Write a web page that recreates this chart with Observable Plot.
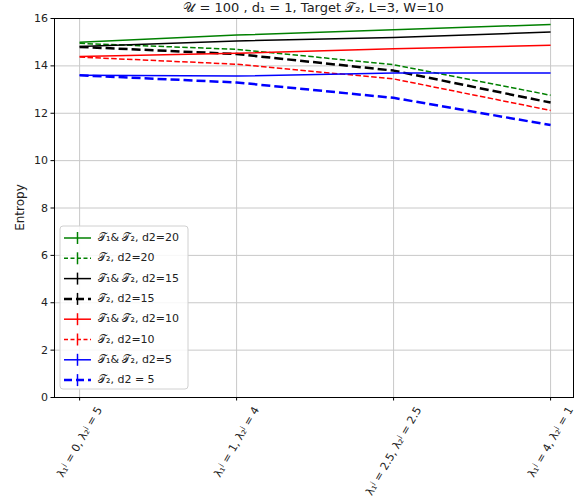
<!DOCTYPE html>
<html>
<head>
<meta charset="utf-8">
<script src="https://cdn.jsdelivr.net/npm/d3@7"></script>
<script src="https://cdn.jsdelivr.net/npm/@observablehq/plot@0.6"></script>
<style>
  html, body { margin: 0; padding: 0; background: #fff; }
  #chart { position: relative; width: 581px; height: 501px; }
  svg { overflow: visible; }
</style>
</head>
<body>
<div id="chart"></div>
<script>
// ---- data ----
const titleText = "𝒰 = 100 , d₁ = 1, Target 𝒯₂, L=3, W=10";
const yLabel = "Entropy";
const xIndex = [0, 1, 2, 3];
const xTickLabels = ["λ₁ʲ = 0, λ₂ʲ = 5", "λ₁ʲ = 1, λ₂ʲ = 4", "λ₁ʲ = 2.5, λ₂ʲ = 2.5", "λ₁ʲ = 4, λ₂ʲ = 1"];
const yTicks = [0, 2, 4, 6, 8, 10, 12, 14, 16];

const seriesNames = [
  "𝒯₁& 𝒯₂, d2=20", "𝒯₂, d2=20",
  "𝒯₁& 𝒯₂, d2=15", "𝒯₂, d2=15",
  "𝒯₁& 𝒯₂, d2=10", "𝒯₂, d2=10",
  "𝒯₁& 𝒯₂, d2=5",  "𝒯₂, d2 = 5"
];
const greenSolid = [15.0, 15.3, 15.52, 15.75];
const greenDash  = [14.95, 14.7, 14.05, 12.76];
const blackSolid = [14.82, 15.05, 15.2, 15.43];
const blackDash  = [14.8, 14.5, 13.8, 12.45];
const redSolid   = [14.4, 14.53, 14.72, 14.87];
const redDash    = [14.37, 14.07, 13.45, 12.12];
const blueSolid  = [13.6, 13.57, 13.7, 13.7];
const blueDash   = [13.6, 13.3, 12.65, 11.5];
const seriesValues = [greenSolid, greenDash, blackSolid, blackDash, redSolid, redDash, blueSolid, blueDash];

// ---- styles ----
const styles = [
  {color: "#008000", width: 1.5, dash: null},
  {color: "#008000", width: 1.5, dash: "5.5,2.4"},
  {color: "#000000", width: 1.5, dash: null},
  {color: "#000000", width: 2.5, dash: "9,4"},
  {color: "#ff0000", width: 1.5, dash: null},
  {color: "#ff0000", width: 1.5, dash: "5.5,2.4"},
  {color: "#0000ff", width: 1.5, dash: null},
  {color: "#0000ff", width: 2.5, dash: "9,4"}
];

const FONT = "'DejaVu Sans', sans-serif";
const W = 581, H = 501;
const mL = 54, mR = 8, mT = 18, mB = 104;

// measure label widths for centred rotated tick labels (matplotlib style)
const ctx = document.createElement("canvas").getContext("2d");
ctx.font = "11px 'DejaVu Sans'";
const rot = 60 * Math.PI / 180;

const lineMarks = seriesValues.map((vals, i) => {
  const data = xIndex.map((x, j) => ({x, y: vals[j]}));
  const s = styles[i];
  return Plot.line(data, {x: "x", y: "y", stroke: s.color, strokeWidth: s.width,
    strokeDasharray: s.dash || undefined, strokeLinecap: "butt"});
});

const xLabelMarks = xTickLabels.map((lab, i) => {
  const L = ctx.measureText(lab).width;
  const h = 13;
  const halfH = (L * Math.sin(rot) + h * Math.cos(rot)) / 2;
  return Plot.text([xIndex[i]], {x: d => d, y: () => 0, text: () => lab,
    rotate: -60, textAnchor: "middle", lineAnchor: "middle",
    dy: 7 + halfH, fontSize: 11, fill: "#222"});
});

const chart = Plot.plot({
  width: W, height: H,
  marginLeft: mL, marginRight: mR, marginTop: mT, marginBottom: mB,
  style: {fontFamily: FONT, fontSize: "11px", color: "#222", background: "white"},
  x: {type: "linear", domain: [-0.16, 3.146]},
  y: {type: "linear", domain: [0, 16]},
  marks: [
    Plot.gridX(xIndex, {stroke: "#c8c8c8", strokeOpacity: 1, strokeWidth: 1}),
    Plot.gridY(yTicks, {stroke: "#c8c8c8", strokeOpacity: 1, strokeWidth: 1}),
    ...lineMarks,
    Plot.axisX(xIndex, {tickSize: 3.5, tickFormat: () => "", label: null, stroke: "#000"}),
    Plot.axisY(yTicks, {tickSize: 3.5, tickPadding: 3, fontSize: 11, label: null, stroke: "#000"}),
    ...xLabelMarks,
    Plot.frame({stroke: "#000", strokeWidth: 1})
  ]
});

document.getElementById("chart").appendChild(chart);

// title and y label + legend appended into the svg
const svg = d3.select(chart);
svg.append("text")
  .attr("x", (mL + (W - mR)) / 2).attr("y", 12)
  .attr("text-anchor", "middle")
  .style("font-family", FONT).style("font-size", "13px").attr("fill", "#222")
  .text(titleText);

svg.append("text")
  .attr("transform", `translate(20,${(mT + (H - mB)) / 2}) rotate(-90)`)
  .attr("text-anchor", "middle").attr("dominant-baseline", "middle")
  .style("font-family", FONT).style("font-size", "12px").attr("fill", "#222")
  .text(yLabel);

const lg = svg.append("g");
lg.append("rect").attr("x", 60).attr("y", 226).attr("width", 128).attr("height", 163)
  .attr("rx", 3).attr("fill", "white").attr("fill-opacity", 0.85)
  .attr("stroke", "#d0d0d0").attr("stroke-width", 1);
seriesNames.forEach((name, i) => {
  const s = styles[i];
  const y = 238 + i * 20.3;
  const g = lg.append("g");
  g.append("line").attr("x1", 64).attr("x2", 91).attr("y1", y).attr("y2", y)
    .attr("stroke", s.color).attr("stroke-width", s.width)
    .attr("stroke-dasharray", s.dash ? (s.width > 2 ? "8,4" : "4,2.5") : null);
  g.append("line").attr("x1", 77.5).attr("x2", 77.5).attr("y1", y - 6).attr("y2", y + 6)
    .attr("stroke", s.color).attr("stroke-width", 1.5);
  g.append("text").attr("x", 98).attr("y", y).attr("dominant-baseline", "middle")
    .attr("text-anchor", "start")
    .style("font-family", FONT).style("font-size", "11px").attr("fill", "#222")
    .text(name);
});
</script>
</body>
</html>
